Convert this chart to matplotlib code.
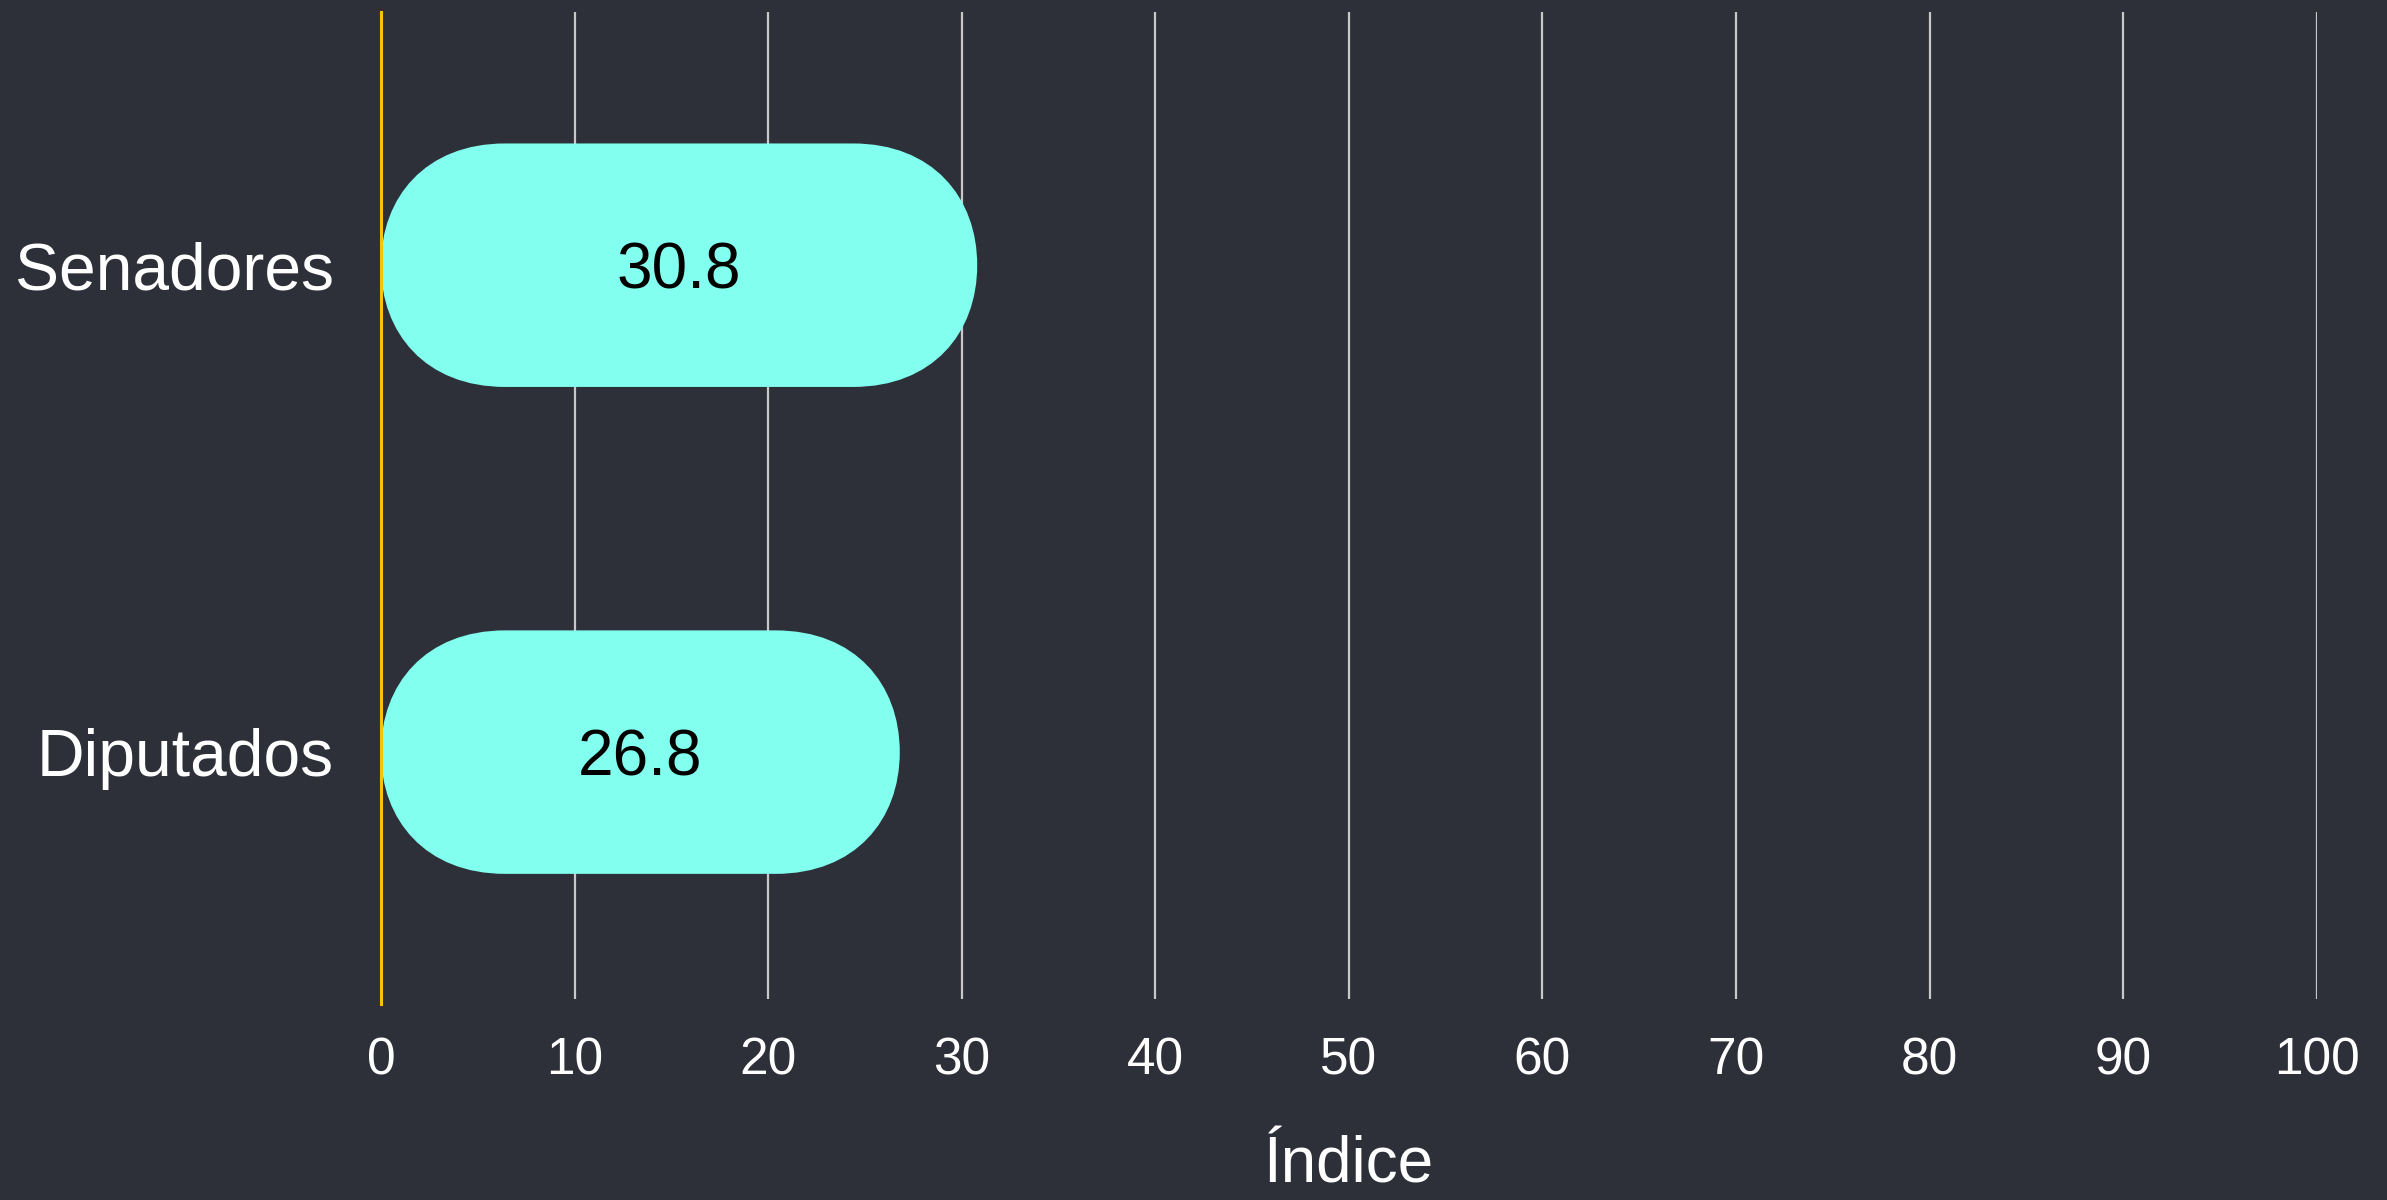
import matplotlib
matplotlib.use("Agg")
import matplotlib.pyplot as plt
from matplotlib.patches import PathPatch
from matplotlib.path import Path

# datos del grafico
categorias = ["Diputados", "Senadores"]
valores = [26.8, 30.8]
ticks_x = list(range(0, 101, 10))

FONDO = "#2d3039"
BARRA = "#82ffee"
GRILLA = "#c8c8c8"
AMARILLO = "#f5c400"

plt.rcParams['font.family'] = ['Liberation Sans', 'DejaVu Sans']

fig = plt.figure(figsize=(23.87, 12), dpi=100, facecolor=FONDO)
ax = fig.add_axes([0.1596, 0.1675, 0.811, 0.8225], facecolor=FONDO)

ax.set_xlim(0, 100)
ax.set_ylim(-0.507, 1.52)

# grilla vertical
for t in ticks_x[1:]:
    ax.axvline(t, color=GRILLA, lw=1.6, zorder=1)
ax.axvline(0, ymin=-0.005, color=AMARILLO, lw=2.2, zorder=3, clip_on=False)

alto = 0.5
# radio de la punta en pixeles -> unidades de datos
ancho_px = 0.811 * 2387
alto_px = 0.8225 * 1200
px_x = ancho_px / 100
px_y = alto_px / (1.52 + 0.507)
rx = 1.02 * (alto / 2) * px_y / px_x


def pildora(x0, x1, yc, h, rx, a=0.56, b=0.64):
    ry = h / 2
    top, bot = yc + ry, yc - ry
    verts = [
        (x0 + rx, top),
        (x0 + rx - b * rx, top), (x0, yc + a * ry), (x0, yc),
        (x0, yc - a * ry), (x0 + rx - b * rx, bot), (x0 + rx, bot),
        (x1 - rx, bot),
        (x1 - rx + b * rx, bot), (x1, yc - a * ry), (x1, yc),
        (x1, yc + a * ry), (x1 - rx + b * rx, top), (x1 - rx, top),
        (x0 + rx, top),
    ]
    codes = ([Path.MOVETO] + [Path.CURVE4] * 6 + [Path.LINETO]
             + [Path.CURVE4] * 6 + [Path.CLOSEPOLY])
    return Path(verts, codes)


for i, (cat, val) in enumerate(zip(categorias, valores)):
    barra = PathPatch(pildora(0, val, i, alto, rx),
                      facecolor=BARRA, edgecolor="none", zorder=2)
    ax.add_patch(barra)
    ax.text(val / 2, i, f"{val:.1f}", ha="center", va="center_baseline",
            fontsize=46, color="black", zorder=4)

ax.set_yticks(range(len(categorias)))
ax.set_yticklabels(categorias, fontsize=47.5, color="white")
ax.set_xticks(ticks_x)
ax.set_xticklabels([str(t) for t in ticks_x], fontsize=37, color="white")
ax.tick_params(axis="y", length=0, pad=34)
ax.tick_params(axis="x", length=0, pad=27)
ax.set_xlabel("Índice", fontsize=46, color="white", labelpad=36)

for s in ax.spines.values():
    s.set_visible(False)

fig.savefig("out.png", dpi=100, facecolor=FONDO)
